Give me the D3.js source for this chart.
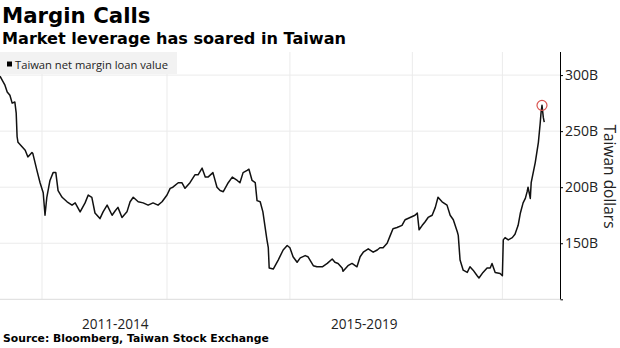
<!DOCTYPE html>
<html>
<head>
<meta charset="utf-8">
<script src="https://cdn.jsdelivr.net/npm/d3@7"></script>
<style>
  html, body { margin: 0; padding: 0; background: #fff; }
  svg { display: block; }
</style>
</head>
<body>
<svg id="chart" width="620" height="348"></svg>
<script>
// ---- data (x in months since start of series, value in billions NT$) ----
const months = [0,0.7,1.1,1.6,2.2,2.7,3.3,3.6,3.8,4.0,4.9,5.6,6.2,7.1,7.3,8.2,8.9,9.6,10.0,10.4,
  11.1,11.8,12.4,12.9,13.8,14.9,16.0,16.7,17.8,18.9,19.6,20.4,21.1,22.2,22.9,23.8,24.9,25.6,26.2,27.1,
  28.2,28.9,29.6,30.7,31.8,32.9,34.0,35.1,36.0,37.1,37.8,38.4,39.6,40.4,41.1,42.2,43.3,44.0,44.9,45.6,
  46.2,47.3,48.2,48.9,49.6,50.7,51.6,52.7,53.3,54.0,54.9,55.3,56.0,56.7,57.1,57.8,58.4,59.3,59.6,59.8,
  60.7,61.8,62.9,63.8,64.4,65.1,66.0,66.7,67.8,68.4,69.6,70.4,71.6,72.7,73.8,74.4,75.1,76.0,76.2,77.3,
  78.2,79.3,80.0,80.7,81.8,82.9,83.8,84.4,85.1,86.0,86.7,87.3,88.2,89.3,90.0,91.1,92.2,92.7,93.1,93.8,
  94.4,95.1,96.0,96.7,97.3,98.2,99.3,100.0,100.7,101.6,101.8,102.2,102.9,103.8,104.4,105.1,106.0,106.4,107.3,108.2,
  108.9,109.3,110.0,111.1,111.6,111.8,112.2,112.9,113.8,114.4,115.1,115.6,116.2,116.7,117.1,117.3,117.8,118.0,118.9,119.6,
  120.0,120.2,120.4,120.7,120.9];
const loanValues = [299,294,291,285,282,275,276,266,245,240,236,233,227,231,230,215,204,195,175,191,
  206,213,213,197,191,187,184,186,178,186,193,191,177,172,178,184,175,179,182,173,
  178,187,191,187,186,184,186,184,187,193,199,200,204,204,199,204,211,211,217,209,
  209,213,200,197,196,204,209,206,204,213,215,216,206,204,188,187,178,153,146,128,
  127,135,144,148,146,138,133,137,139,138,130,129,129,132,136,133,132,128,125,130,
  132,129,138,142,145,142,144,146,146,150,157,163,164,166,171,173,175,177,162,166,
  169,173,175,182,191,187,184,175,171,160,157,135,126,124,129,126,121,119,124,128,
  128,132,124,123,121,153,155,153,155,158,166,177,186,190,196,200,190,204,222,240,
  257,267,273,262,258];
const highlightIndex = 162;           // latest record high
const yTicks = [150, 200, 250, 300];
const yTickLabels = ["150B", "200B", "250B", "300B"];
const gridMonths = [9.33, 37.1, 64.4, 91.6, 111.6];
const periodLabels = ["2011-2014", "2015-2019"];
const periodLabelMonths = [25.6, 80.9];
const legendLabel = "Taiwan net margin loan value";
const title = "Margin Calls";
const subtitle = "Market leverage has soared in Taiwan";
const yAxisTitle = "Taiwan dollars";
const source = "Source: Bloomberg, Taiwan Stock Exchange";

// ---- layout ----
const svg = d3.select("#chart");
const plotLeft = 0, plotRight = 560, plotTop = 52, plotBottom = 299.3;

const x = d3.scaleLinear().domain([0, 124.4]).range([plotLeft, plotRight]);
const y = d3.scaleLinear().domain([100, 320.6]).range([plotBottom, plotTop]);

// titles
svg.append("text").attr("x", 2).attr("y", 22.5)
  .attr("font-family", "DejaVu Sans").attr("font-weight", "bold")
  .attr("font-size", 21.3).attr("fill", "#000").text(title);
svg.append("text").attr("x", 2).attr("y", 43.5)
  .attr("font-family", "DejaVu Sans").attr("font-weight", "bold")
  .attr("font-size", 16.1).attr("fill", "#000").text(subtitle);

// horizontal gridlines
svg.append("g").selectAll("line").data(yTicks).join("line")
  .attr("x1", plotLeft).attr("x2", plotRight)
  .attr("y1", d => y(d)).attr("y2", d => y(d))
  .attr("stroke", "#ebebeb").attr("stroke-width", 1);
// vertical gridlines
svg.append("g").selectAll("line").data(gridMonths).join("line")
  .attr("x1", d => x(d)).attr("x2", d => x(d))
  .attr("y1", plotTop).attr("y2", plotBottom)
  .attr("stroke", "#ebebeb").attr("stroke-width", 1);
// baseline
svg.append("line")
  .attr("x1", plotLeft).attr("x2", plotRight)
  .attr("y1", y(100)).attr("y2", y(100))
  .attr("stroke", "#e2e2e2").attr("stroke-width", 1.2);

// legend box
const lg = svg.append("g");
lg.append("rect").attr("x", 0).attr("y", 52).attr("width", 177).attr("height", 22)
  .attr("fill", "#f2f2f2");
lg.append("rect").attr("x", 7).attr("y", 61.5).attr("width", 5).attr("height", 5).attr("fill", "#000");
lg.append("text").attr("x", 15).attr("y", 68.5)
  .attr("font-family", "Open Sans").attr("font-size", 11.2).attr("fill", "#222")
  .text(legendLabel);

// line
const line = d3.line().x((d, i) => x(months[i])).y(d => y(d));
svg.append("path").datum(loanValues)
  .attr("d", line).attr("fill", "none")
  .attr("stroke", "#111").attr("stroke-width", 1.5).attr("stroke-linejoin", "round");

// highlight circle
svg.append("circle")
  .attr("cx", x(months[highlightIndex])).attr("cy", y(loanValues[highlightIndex]))
  .attr("r", 5).attr("fill", "none").attr("stroke", "#d9534f").attr("stroke-width", 1.2);

// right axis
const axis = d3.axisRight(y).tickValues([100].concat(yTicks)).tickSize(3)
  .tickFormat(d => { const i = yTicks.indexOf(d); return i >= 0 ? yTickLabels[i] : ""; });
const ag = svg.append("g").attr("transform", `translate(${plotRight},0)`).call(axis);
ag.select(".domain").attr("stroke", "#000").attr("d", `M0.5,${plotTop}V${plotBottom}`);
ag.selectAll(".tick line").attr("stroke", "#000").attr("x1", 0.5);
ag.selectAll(".tick text").attr("x", 5).attr("font-family", "Open Sans")
  .attr("font-size", 14).attr("fill", "#222");

// y axis title
svg.append("text")
  .attr("transform", `translate(603.5,176.5) rotate(90)`)
  .attr("text-anchor", "middle")
  .attr("font-family", "Open Sans").attr("font-size", 15.5).attr("fill", "#222")
  .text(yAxisTitle);

// period labels
svg.append("g").selectAll("text").data(periodLabels).join("text")
  .attr("x", (d, i) => x(periodLabelMonths[i])).attr("y", 328.5)
  .attr("text-anchor", "middle")
  .attr("font-family", "Open Sans").attr("font-size", 13.6).attr("fill", "#222")
  .text(d => d);

// source
svg.append("text").attr("x", 3).attr("y", 342)
  .attr("font-family", "DejaVu Sans").attr("font-weight", "bold")
  .attr("font-size", 10.8).attr("fill", "#000").text(source);
</script>
</body>
</html>
